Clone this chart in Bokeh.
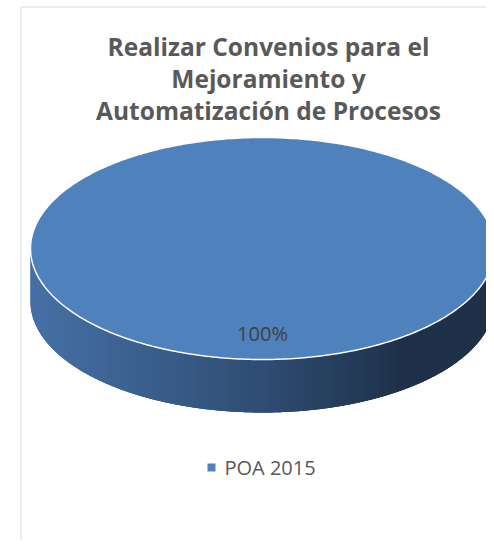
import numpy as np
from bokeh.plotting import figure
from bokeh.models import Range1d
from bokeh.core.properties import value
from bokeh.embed import file_html
from bokeh.resources import INLINE

# ---- data ----
title_lines = ["Realizar Convenios para el", "Mejoramiento y", "Automatización de Procesos"]
categories = ["POA 2015"]
values = [100]
colors = ["#4f81bd"]

# ---- layout (reference pixel coordinates) ----
W, H = 486, 540
p = figure(width=W, height=H, output_backend="svg", toolbar_location=None,
           x_range=Range1d(0, W), y_range=Range1d(H, 0),
           min_border=0, outline_line_color=None, background_fill_color="white",
           border_fill_color="white")
p.axis.visible = False
p.grid.visible = False

# chart-area border
p.segment(x0=[20.5, 20.5], y0=[6.5, 6.5], x1=[20.5, 600], y1=[600, 6.5],
          line_color="#d9d9d9", line_width=1)

# pie geometry
cx, cy, a, b, depth = 262.0, 248.0, 232.0, 111.0, 53.0
total = float(sum(values))
fracs = [v / total for v in values]

# side-wall gradient (overlapping strips)
stops_t = [0.0, 0.5, 0.8, 1.0]
stops_c = [(0x46, 0x71, 0xa6), (0x2f, 0x4d, 0x73), (0x1f, 0x31, 0x49), (0x1f, 0x30, 0x49)]
def grad(t):
    r = np.interp(t, stops_t, [c[0] for c in stops_c])
    g = np.interp(t, stops_t, [c[1] for c in stops_c])
    bl = np.interp(t, stops_t, [c[2] for c in stops_c])
    return "#%02x%02x%02x" % (int(r), int(g), int(bl))

n = 160
th = np.linspace(np.pi, 0, n + 1)  # front half, left to right (screen y downward)
xs_s, ys_s, cs_s = [], [], []
for i in range(n):
    t0, t1 = th[i], th[min(i + 3, n)]
    tt = np.linspace(t0, t1, 8)
    ex = cx + a * np.cos(tt)
    ey = cy + b * np.sin(tt)
    px = list(ex) + list(ex[::-1])
    py = list(ey) + list((ey + depth)[::-1])
    xs_s.append(px)
    ys_s.append(py)
    xm = cx + a * np.cos(th[i])
    cs_s.append(grad((xm - (cx - a)) / (2 * a)))
p.patches(xs=xs_s, ys=ys_s, fill_color=cs_s, line_color=None)

# top faces of slices (start at 12 o'clock, clockwise)
start = -np.pi / 2
mids = []
for f, col in zip(fracs, colors):
    end = start + 2 * np.pi * f
    tt = np.linspace(start, end, 400)
    px = list(cx + a * np.cos(tt))
    py = list(cy + b * np.sin(tt))
    if f < 0.9999:
        px = [cx] + px
        py = [cy] + py
    p.patch(px, py, fill_color=col, line_color="white", line_width=1.5)
    mids.append((start + end) / 2)
    start = end

# data labels
lab_r = 0.77
lx = [cx + lab_r * a * np.cos(m) for m in mids]
ly = [cy + lab_r * b * np.sin(m) for m in mids]
labels = ["%d%%" % round(f * 100) for f in fracs]
p.text(x=lx, y=ly, text=labels, text_font=value("Open Sans"), text_font_size="20px",
       text_color="#404040", text_align="center", text_baseline="middle")

# title
tx = 268
ty0, tdy = 46, 32
p.text(x=[tx] * len(title_lines), y=[ty0 + i * tdy for i in range(len(title_lines))],
       text=title_lines, text_font=value("Open Sans"), text_font_style="bold",
       text_font_size="24.5px", text_color="#595959", text_align="center",
       text_baseline="middle")

# legend
lgx, lgy = 211, 467
p.scatter(x=[lgx], y=[lgy], marker="square", size=8, fill_color=colors[0], line_color=None)
p.text(x=[lgx + 13], y=[lgy], text=categories, text_font=value("Open Sans"),
       text_font_size="20px", text_color="#595959", text_align="left",
       text_baseline="middle")

open("out.html", "w").write(file_html(p, INLINE))
